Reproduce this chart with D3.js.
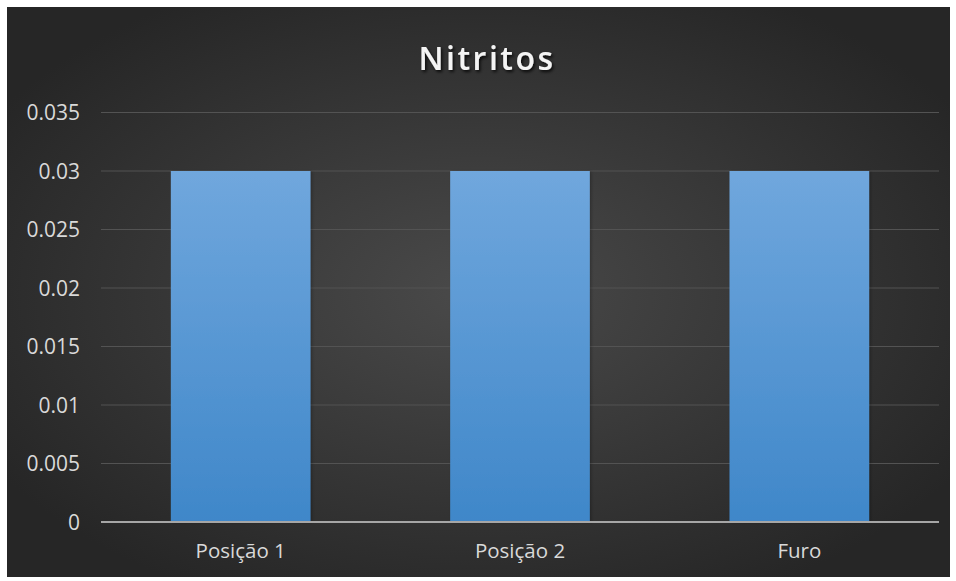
<!DOCTYPE html>
<html>
<head>
<meta charset="utf-8">
<script src="https://cdn.jsdelivr.net/npm/d3@7"></script>
<style>
  html, body { margin: 0; padding: 0; background: #ffffff; }
  svg { display: block; }
</style>
</head>
<body>
<script>
// Nitrite readings per sampling point
const categories = ["Posição 1", "Posição 2", "Furo"];
const values = [0.03, 0.03, 0.03];
const yTicks = [0, 0.005, 0.01, 0.015, 0.02, 0.025, 0.03, 0.035];
const yTickLabels = ["0", "0.005", "0.01", "0.015", "0.02", "0.025", "0.03", "0.035"];
const title = "Nitritos";

const W = 956, H = 581;
const svg = d3.select("body").append("svg").attr("width", W).attr("height", H);
const defs = svg.append("defs");

const bg = defs.append("radialGradient").attr("id", "bg")
  .attr("cx", "50%").attr("cy", "50%").attr("r", "60%");
bg.append("stop").attr("offset", "0%").attr("stop-color", "#4a4a4a");
bg.append("stop").attr("offset", "100%").attr("stop-color", "#262626");

const barGrad = defs.append("linearGradient").attr("id", "bar")
  .attr("x1", 0).attr("y1", 0).attr("x2", 0).attr("y2", 1);
barGrad.append("stop").attr("offset", "0%").attr("stop-color", "#70a7dd");
barGrad.append("stop").attr("offset", "100%").attr("stop-color", "#3f87c9");

const shadow = defs.append("filter").attr("id", "barShadow")
  .attr("x", "-10%").attr("y", "-10%").attr("width", "130%").attr("height", "120%");
shadow.append("feDropShadow").attr("dx", 1.5).attr("dy", 0.5).attr("stdDeviation", 1.5)
  .attr("flood-color", "#000").attr("flood-opacity", 0.25);

const tShadow = defs.append("filter").attr("id", "titleShadow")
  .attr("x", "-20%").attr("y", "-40%").attr("width", "140%").attr("height", "180%");
tShadow.append("feDropShadow").attr("dx", 1.5).attr("dy", 2).attr("stdDeviation", 1.6)
  .attr("flood-color", "#000").attr("flood-opacity", 0.8);

// chart area
svg.append("rect").attr("x", 7).attr("y", 7).attr("width", 943).attr("height", 570)
  .attr("fill", "url(#bg)");

const x = d3.scaleBand().domain(categories).range([101, 939])
  .paddingInner(0.5).paddingOuter(0.25);
const y = d3.scaleLinear().domain([0, 0.035]).range([522, 112.5]);

const font = "'Open Sans', 'Noto Sans', sans-serif";

// gridlines
svg.append("g").selectAll("line").data(yTicks.filter(d => d > 0)).join("line")
  .attr("x1", 101).attr("x2", 939)
  .attr("y1", d => y(d)).attr("y2", d => y(d))
  .attr("stroke", "#535353").attr("stroke-width", 1);

// y axis labels
const yAxis = d3.axisLeft(y).tickValues(yTicks)
  .tickFormat((d, i) => yTickLabels[i]).tickSize(0).tickPadding(0);
const yg = svg.append("g").attr("transform", "translate(80,0)").call(yAxis);
yg.select(".domain").remove();
yg.selectAll("text").attr("fill", "#d9d9d9").style("font-family", font)
  .style("font-size", "21px").attr("dy", "0.35em");

// bars
svg.append("g").selectAll("rect").data(values).join("rect")
  .attr("x", (d, i) => x(categories[i]))
  .attr("width", x.bandwidth())
  .attr("y", d => y(d))
  .attr("height", d => y(0) - y(d))
  .attr("fill", "url(#bar)")
  .attr("filter", "url(#barShadow)");

// category axis
const xAxis = d3.axisBottom(x).tickSize(0).tickPadding(0);
const xg = svg.append("g").attr("transform", "translate(0,522)").call(xAxis);
xg.select(".domain").attr("stroke", "#a6a6a6").attr("stroke-width", 2)
  .attr("d", "M101,0H939");
xg.selectAll("text").attr("fill", "#d9d9d9").style("font-family", font)
  .style("font-size", "20.5px").attr("y", 0).attr("dy", "1.75em");

// title
svg.append("text").attr("x", 487).attr("y", 70)
  .attr("text-anchor", "middle")
  .style("font-family", font).style("font-weight", "600")
  .style("font-size", "32px").style("letter-spacing", "2.5px")
  .attr("fill", "#f4f4f4").attr("filter", "url(#titleShadow)")
  .text(title);
</script>
</body>
</html>
